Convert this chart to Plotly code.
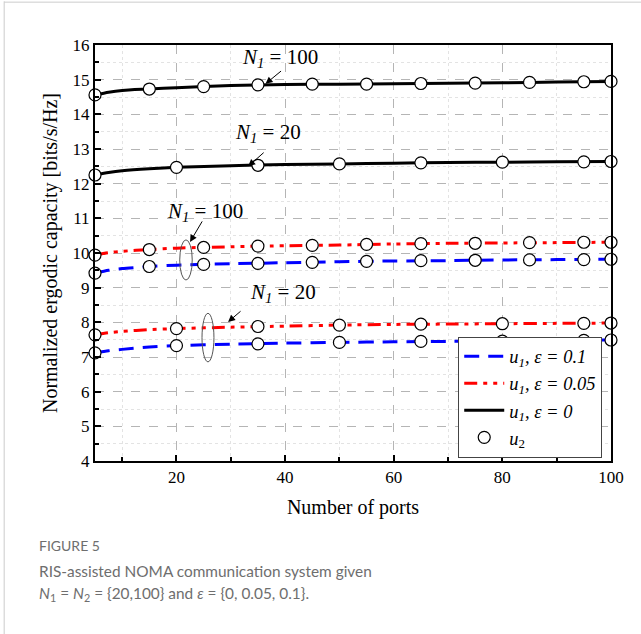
import plotly.graph_objects as go

# ---------------- data ----------------
x_line = [5, 7.5, 10, 15, 20, 30, 40, 50, 60, 70, 80, 90, 100]
u1_eps0_N100 = [14.56, 14.64, 14.69, 14.73, 14.77, 14.83, 14.86, 14.87, 14.88, 14.90, 14.91, 14.93, 14.95]
u1_eps0_N20 = [12.25, 12.32, 12.37, 12.43, 12.47, 12.52, 12.55, 12.57, 12.59, 12.61, 12.62, 12.63, 12.64]
u1_eps005_N100 = [9.94, 10.01, 10.05, 10.10, 10.14, 10.18, 10.21, 10.23, 10.26, 10.28, 10.29, 10.30, 10.31]
u1_eps01_N100 = [9.42, 9.50, 9.55, 9.61, 9.65, 9.69, 9.72, 9.75, 9.77, 9.78, 9.80, 9.81, 9.82]
u1_eps005_N20 = [7.64, 7.70, 7.74, 7.79, 7.82, 7.86, 7.89, 7.92, 7.94, 7.95, 7.96, 7.97, 7.98]
u1_eps01_N20 = [7.12, 7.18, 7.22, 7.29, 7.33, 7.37, 7.40, 7.42, 7.44, 7.45, 7.46, 7.48, 7.49]

x_mk_N100 = [5, 15, 25, 35, 45, 55, 65, 75, 85, 95, 100]
u2_eps0_N100 = [14.56, 14.73, 14.80, 14.85, 14.87, 14.87, 14.89, 14.90, 14.92, 14.94, 14.95]
u2_eps005_N100 = [9.94, 10.10, 10.16, 10.20, 10.22, 10.25, 10.27, 10.28, 10.30, 10.31, 10.31]
u2_eps01_N100 = [9.42, 9.61, 9.67, 9.70, 9.73, 9.76, 9.78, 9.79, 9.80, 9.81, 9.82]

x_mk_N20 = [5, 20, 35, 50, 65, 80, 95, 100]
u2_eps0_N20 = [12.25, 12.47, 12.53, 12.57, 12.60, 12.62, 12.63, 12.64]
u2_eps005_N20 = [7.64, 7.82, 7.88, 7.92, 7.95, 7.96, 7.97, 7.98]
u2_eps01_N20 = [7.12, 7.33, 7.38, 7.42, 7.45, 7.46, 7.48, 7.49]

legend_names = ["<i>u</i><sub><i>1</i></sub><i>, ε = 0.1</i>",
                "<i>u</i><sub><i>1</i></sub><i>, ε = 0.05</i>",
                "<i>u</i><sub><i>1</i></sub><i>, ε = 0</i>",
                "<i>u</i><sub>2</sub>"]

SERIF = "Liberation Serif"
BLUE_DASH = "15px,9px"
RED_DASH = "13px,6px,4px,6px,4px,6px"

fig = go.Figure()

line_specs = [
    (u1_eps01_N100, "blue", BLUE_DASH, legend_names[0], True),
    (u1_eps01_N20, "blue", BLUE_DASH, legend_names[0], False),
    (u1_eps005_N100, "red", RED_DASH, legend_names[1], True),
    (u1_eps005_N20, "red", RED_DASH, legend_names[1], False),
    (u1_eps0_N100, "black", "solid", legend_names[2], True),
    (u1_eps0_N20, "black", "solid", legend_names[2], False),
]
for ys, col, dash, name, show in line_specs:
    fig.add_trace(go.Scatter(x=x_line, y=ys, mode="lines", name=name, showlegend=show,
                             line=dict(color=col, width=3, dash=dash, shape="spline", smoothing=0.6)))

marker_specs = [
    (x_mk_N100, u2_eps0_N100, True),
    (x_mk_N20, u2_eps0_N20, False),
    (x_mk_N100, u2_eps005_N100, False),
    (x_mk_N100, u2_eps01_N100, False),
    (x_mk_N20, u2_eps005_N20, False),
    (x_mk_N20, u2_eps01_N20, False),
]
for xs, ys, show in marker_specs:
    fig.add_trace(go.Scatter(x=xs, y=ys, mode="markers", name=legend_names[3], showlegend=show,
                             marker=dict(symbol="circle", size=12, color="white",
                                         line=dict(color="black", width=1.2)),
                             cliponaxis=False))

ann_font = dict(family=SERIF, size=21, color="black")
ann_txt = "<i>N</i><sub><i>1</i></sub> = "
texts = [
    (39.0, 15.62, ann_txt + "100"),
    (36.8, 13.45, ann_txt + "20"),
    (25.3, 11.18, ann_txt + "100"),
    (39.6, 8.85, ann_txt + "20"),
]
for x, y, t in texts:
    fig.add_annotation(x=x, y=y, text=t, showarrow=False, font=ann_font)

arrows = [
    (36.4, 14.88, 17, -14),
    (33.2, 12.50, 17, -15),
    (22.5, 10.32, 13, -22),
    (29.5, 8.01, 14, -12),
]
for x, y, ax, ay in arrows:
    fig.add_annotation(x=x, y=y, ax=ax, ay=ay, text="", showarrow=True,
                       arrowhead=2, arrowsize=1.4, arrowwidth=1, arrowcolor="black")

# ellipses
fig.add_shape(type="circle", xref="x", yref="y", x0=20.6, x1=22.9, y0=9.22, y1=10.38,
              line=dict(color="#555", width=1))
fig.add_shape(type="circle", xref="x", yref="y", x0=24.7, x1=26.9, y0=6.86, y1=8.26,
              line=dict(color="#555", width=1))

# page frame lines
fig.add_shape(type="line", xref="paper", yref="paper", x0=-0.176, x1=-0.176, y0=-0.42, y1=1.105,
              line=dict(color="#cccccc", width=1))
fig.add_shape(type="line", xref="paper", yref="paper", x0=-0.176, x1=1.06, y0=1.103, y1=1.103,
              line=dict(color="#cccccc", width=1))

# caption
cap_col = "#6e6e6e"
fig.add_annotation(xref="paper", yref="paper", x=-0.112, y=-0.204, xanchor="left", yanchor="middle",
                   text="FIGURE 5", showarrow=False, font=dict(family="Lato", size=14, color=cap_col))
fig.add_annotation(xref="paper", yref="paper", x=-0.113, y=-0.264, xanchor="left", yanchor="middle",
                   text="RIS-assisted NOMA communication system given", showarrow=False,
                   font=dict(family="Lato", size=15.4, color=cap_col))
fig.add_annotation(xref="paper", yref="paper", x=-0.113, y=-0.32, xanchor="left", yanchor="middle",
                   text="<i>N</i><sub>1</sub> = <i>N</i><sub>2</sub> = {20,100} and <i>ε</i> = {0, 0.05, 0.1}.",
                   showarrow=False, font=dict(family="Lato", size=15.4, color=cap_col))

axis_common = dict(showline=True, linecolor="black", linewidth=2, mirror=True,
                   ticks="inside", ticklen=6, tickwidth=1.5, tickcolor="black",
                   showgrid=True, gridcolor="#b5b5b5", griddash="dash", gridwidth=1,
                   zeroline=False, tickfont=dict(family=SERIF, size=17, color="black"))

fig.update_xaxes(range=[5, 100], dtick=20, tick0=0,
                 minor=dict(dtick=10, ticks="inside", ticklen=4, tickcolor="black",
                            showgrid=True, gridcolor="#e3e3e3", griddash="dot"),
                 title=dict(text="Number of ports", font=dict(family=SERIF, size=20, color="black"), standoff=14),
                 **axis_common)
fig.update_yaxes(range=[4, 16], dtick=1, tick0=0,
                 minor=dict(dtick=0.5, ticks="inside", ticklen=4, tickcolor="black",
                            showgrid=True, gridcolor="#e3e3e3", griddash="dot"),
                 title=dict(text="Normalized ergodic capacity [bits/s/Hz]",
                            font=dict(family=SERIF, size=20, color="black"), standoff=10),
                 **axis_common)

fig.update_layout(
    width=641, height=634,
    margin=dict(l=95, r=30, t=45, b=173),
    font=dict(family=SERIF, color="black"),
    plot_bgcolor="white", paper_bgcolor="white",
    legend=dict(x=0.983, y=0.008, xanchor="right", yanchor="bottom",
                bgcolor="white", bordercolor="#444", borderwidth=1,
                font=dict(family=SERIF, size=18.5, color="black"),
                tracegroupgap=2, itemwidth=40),
)

fig.write_html("out.html", config={"displayModeBar": False},
               post_script="document.body.style.margin='0';document.body.style.overflow='hidden';")
